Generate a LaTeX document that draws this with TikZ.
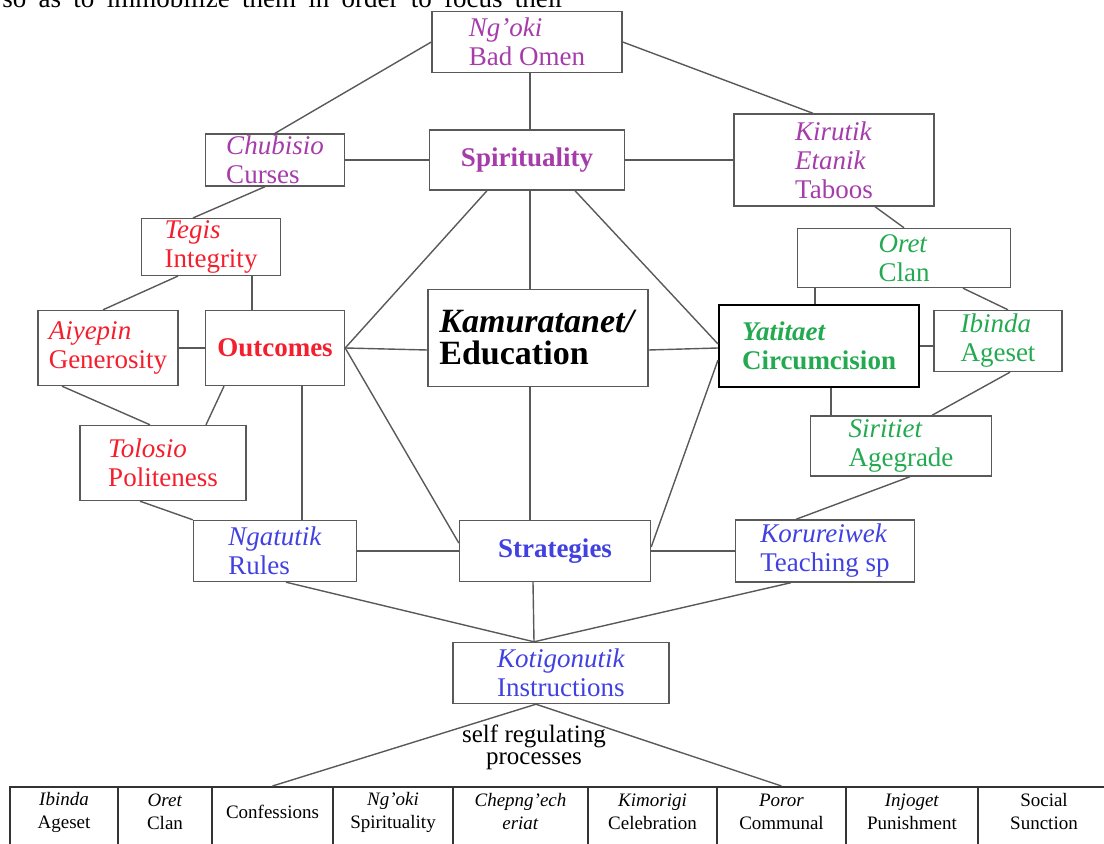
\documentclass[tikz,border=0pt]{standalone}
\usepackage{fontspec}
\setmainfont{Liberation Serif}
\usetikzlibrary{positioning}
\definecolor{spiritc}{RGB}{165,60,170}
\definecolor{outcc}{RGB}{245,30,45}
\definecolor{circc}{RGB}{35,170,80}
\definecolor{stratc}{RGB}{65,65,225}

\begin{document}
\begin{tikzpicture}[
				x=0.5pt,y=-0.5pt,
				every node/.style={on grid},
				box/.style={draw=black!65,line width=0.7pt,inner sep=1pt,align=left,
					font=\fontsize{13.5}{14.5}\selectfont},
				spiritbox/.style={box,text=spiritc},
				outcbox/.style={box,text=outcc},
				circbox/.style={box,text=circc},
				stratbox/.style={box,text=stratc},
				cell/.style={draw=black!80,line width=0.75pt,anchor=north,inner sep=0pt,minimum height=40pt},
				celltext/.style={align=center,font=\fontsize{9.5}{11.5}\selectfont},
				link/.style={draw=black!65,line width=0.7pt}
				]
				\useasboundingbox (0,0) rectangle (1104,844);
				
				% line of text above the figure
				\node[anchor=base west,inner sep=0pt,font=\fontsize{13.5}{14.5}\selectfont] (prose) at (2,8)
					{\makebox[281pt][s]{so as to immobilize them in order to focus their}};
				
				% education
				\node[box,minimum width=110pt,minimum height=48.5pt,font=\fontsize{17}{16}\selectfont] (edu) at (538,338)
					{\textbf{\textit{Kamuratanet/}}\\\textbf{Education}};
				
				% spirituality
				\node[spiritbox,minimum width=97.5pt,minimum height=30pt,above left=89pt and 5.5pt of edu] (spir) {\textbf{Spirituality}};
				\node[spiritbox,minimum width=95pt,minimum height=30.5pt,above=59pt of spir] (ngoki) {\textit{Ng'oki}\\Bad Omen};
				\node[spiritbox,minimum width=69.5pt,minimum height=26pt,left=126pt of spir] (chub) {\textit{Chubisio}\\Curses};
				\node[spiritbox,minimum width=100pt,minimum height=46pt,right=153.5pt of spir] (kir) {\textit{Kirutik}\\\textit{Etanik}\\Taboos};
				
				% outcomes
				\node[outcbox,minimum width=69.5pt,minimum height=27pt,below left=43.5pt and 32pt of chub] (tegis) {\textit{Tegis}\\Integrity};
				\node[outcbox,minimum width=69.5pt,minimum height=37.5pt,below=94pt of chub] (outc) {\textbf{Outcomes}};
				\node[outcbox,minimum width=70pt,minimum height=37.5pt,left=83.5pt of outc] (aiy) {\textit{Aiyepin}\\Generosity};
				\node[outcbox,minimum width=83pt,minimum height=37.5pt,below left=57.5pt and 56pt of outc] (tol) {\textit{Tolosio}\\Politeness};
				
				% circumcision
				\node[circbox,draw=black,line width=1pt,minimum width=100pt,minimum height=41pt,below right=4pt and 140.5pt of edu] (yat)
					{\textbf{\textit{Yatitaet}}\\\textbf{Circumcision}};
				\node[circbox,minimum width=106.5pt,minimum height=29.5pt,below right=49pt and 35pt of kir] (oret) {\textit{Oret}\\Clan};
				\node[circbox,minimum width=64pt,minimum height=30.5pt,above right=2.5pt and 89.5pt of yat] (ibin) {\textit{Ibinda}\\Ageset};
				\node[circbox,minimum width=90.5pt,minimum height=30pt,below right=50pt and 41pt of yat] (sirit) {\textit{Siritiet}\\Agegrade};
				
				% strategies
				\node[stratbox,minimum width=81.5pt,minimum height=30.5pt,below=101.5pt of outc] (ngat) {\textit{Ngatutik}\\Rules};
				\node[stratbox,minimum width=95.5pt,minimum height=30.5pt,right=140pt of ngat] (strat) {\textbf{Strategies}};
				\node[stratbox,minimum width=89.5pt,minimum height=31pt,right=135pt of strat] (koru) {\textit{Korureiwek}\\Teaching sp};
				\node[stratbox,minimum width=108pt,minimum height=30.5pt,below right=61pt and 3pt of strat] (koti) {\textit{Kotigonutik}\\Instructions};
				\node[align=center,inner sep=0pt,font=\fontsize{12.5}{11}\selectfont,below left=37pt and 13.5pt of koti] (selfreg) {self regulating\\processes};
				
				% the row of processes
				\foreach \l/\r/\txt [count=\i] in {10/118/{\textit{Ibinda}\\Ageset},118/212/{\textit{Oret}\\Clan},
						212/333/{Confessions},333/453/{\textit{Ng'oki}\\Spirituality},453/588/{\textit{Chepng'ech}\\\textit{eriat}},
						588/717/{\textit{Kimorigi}\\Celebration},717/846/{\textit{Poror}\\Communal},
						846/978/{\textit{Injoget}\\Punishment},978/1110/{Social\\Sunction}}
					{\node[cell,minimum width={(\r-\l)*0.5pt}] (c\i) at ({(\l+\r)/2},786) {};
					 \node[celltext] (t\i) at ({(\l+\r)/2},812) {\txt};}
				
				% spirituality links
				\draw[link] (ngoki.west) -- (chub.north);
				\draw[link] (ngoki.east) -- ([xshift=-10.5pt]kir.north);
				\draw[link] ([xshift=1.5pt]ngoki.south) -- ([xshift=1.5pt]spir.north);
				\draw[link] (chub.east) -- (spir.west);
				\draw[link] (spir.east) -- (kir.west);
				\draw[link] ([xshift=-5pt]chub.south) -- ([xshift=-9pt]tegis.north);
				\draw[link] ([xshift=20.5pt]kir.south) -- (oret.north);
				
				% outcome links
				\draw[link] ([xshift=-16.5pt]tegis.south) -- ([xshift=-2.5pt]aiy.north);
				\draw[link] ([xshift=-11.5pt]outc.north) -- ([xshift=-11.5pt]outc.north |- tegis.south);
				\draw[link] (aiy) -- (outc);
				\draw[link] ([xshift=-23pt]aiy.south) -- ([xshift=-6.5pt]tol.north);
				\draw[link] ([xshift=-25.5pt]outc.south) -- ([xshift=21.5pt]tol.north);
				\draw[link] ([xshift=13.5pt]outc.south) -- ([xshift=13.5pt]outc.south |- ngat.north);
				\draw[link] ([xshift=-11.5pt]tol.south) -- (ngat.north west);
				\draw[link] (outc.east) -- ([xshift=-20pt]spir.south);
				\draw[link] (outc.east) -- ([yshift=-6pt]edu.west);
				\draw[link] (outc.east) -- ([yshift=4pt]strat.west);
				
				% links round the centre
				\draw[link] ([xshift=1.5pt]spir.south) -- ([xshift=1.5pt]spir.south |- edu.north);
				\draw[link] ([xshift=24pt]spir.south) -- ([yshift=1pt]yat.west);
				\draw[link] ([yshift=-6pt]edu.east) -- ([yshift=-1pt]yat.west);
				\draw[link] ([xshift=-4pt]edu.south) -- ([xshift=-4pt]edu.south |- strat.north);
				\draw[link] ([yshift=-7pt]yat.west) -- ([yshift=2pt]strat.east);
				
				% circumcision links
				\draw[link] ([xshift=-44.5pt]oret.south) -- ([xshift=-44.5pt]oret.south |- yat.north);
				\draw[link] ([xshift=29.5pt]oret.south) -- ([xshift=5pt]ibin.north);
				\draw[link] (yat.east) -- (yat.east -| ibin.west);
				\draw[link] ([xshift=6pt]yat.south) -- ([xshift=6pt]yat.south |- sirit.north);
				\draw[link] ([xshift=6pt]ibin.south) -- ([xshift=15.5pt]sirit.north);
				\draw[link] ([xshift=4.5pt]sirit.south) -- ([xshift=-14.5pt]koru.north);
				
				% strategy links
				\draw[link] (ngat) -- (strat);
				\draw[link] (strat) -- (koru);
				\coordinate (kotitop) at ([xshift=-13.5pt]koti.north);
				\draw[link] ([xshift=5.5pt]ngat.south) -- (kotitop);
				\draw[link] ([xshift=-11pt]strat.south) -- (kotitop);
				\draw[link] ([xshift=-17pt]koru.south) -- (kotitop);
				
				% down to the processes
				\coordinate (kotibot) at ([xshift=-12.5pt]koti.south);
				\draw[link] (kotibot) -- (c3.north);
				\draw[link] (kotibot) -- (c7.north);
			\end{tikzpicture}
\end{document}
